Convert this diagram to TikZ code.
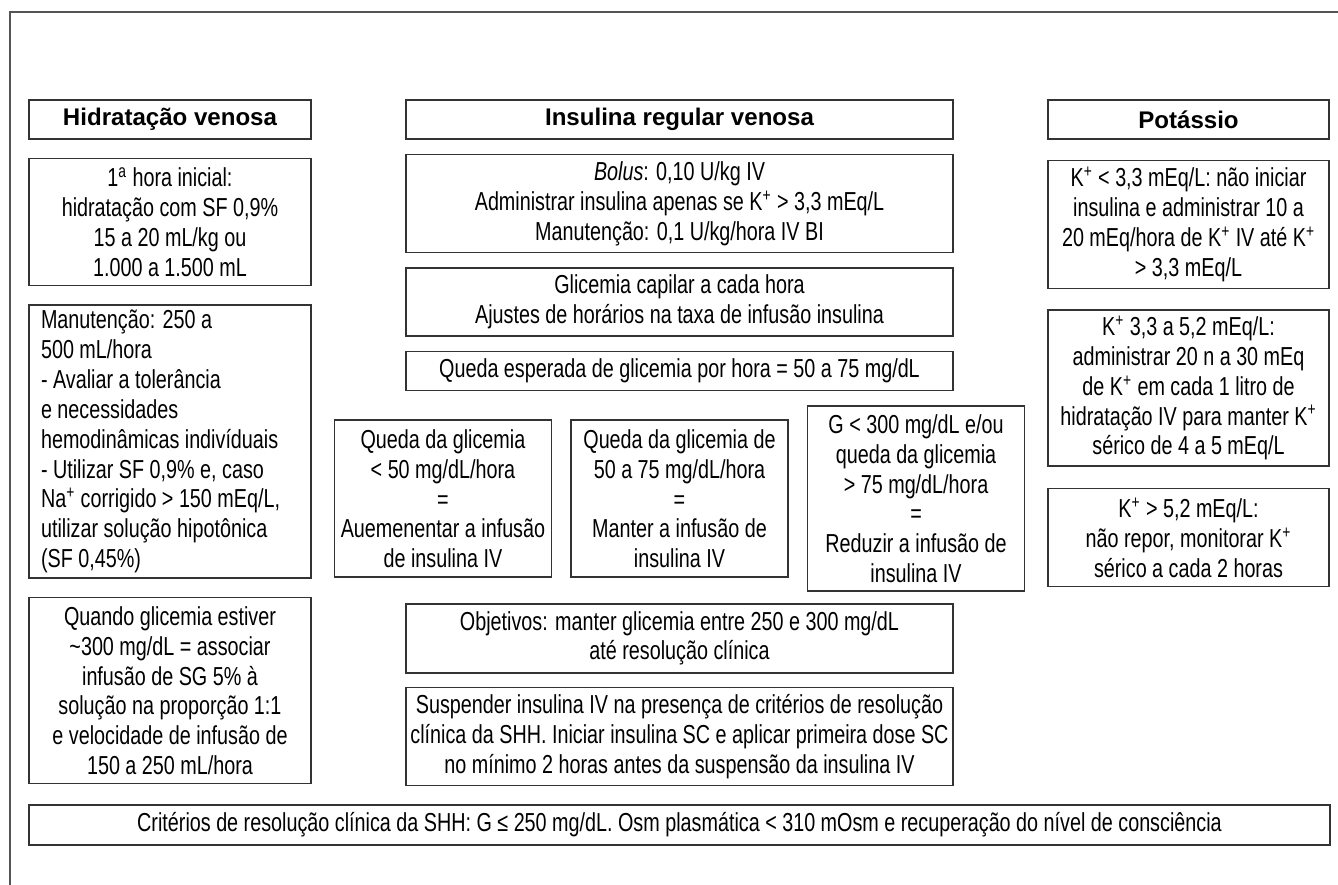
\documentclass[tikz,border=0pt]{standalone}
\usepackage{fontspec}
\setmainfont{Liberation Sans}[FakeStretch=0.76]
\newfontfamily\headfont{Liberation Sans}
\usetikzlibrary{positioning}
\definecolor{boxLine}{HTML}{333333}
\definecolor{frameGrey}{HTML}{555555}
\newcommand{\kplus}{K\textsuperscript{+}}

\begin{document}
\begin{tikzpicture}[x=0.02cm, y=-0.02cm, font=\fontsize{14.8}{17}\selectfont,
  every node/.style={align=center},
  box/.style={draw=boxLine, line width=0.9pt, inner sep=0pt},
  headbox/.style={box, font=\fontsize{13.7}{16.5}\selectfont\headfont\bfseries, minimum height=0.78cm}]
  \useasboundingbox (0,0) rectangle (1338,885);
  % frame
  \draw[frameGrey, line width=1.2pt] (10,885) -- (10,12) -- (1338,12);
  % headers
  \node[headbox, minimum width=5.64cm] (hidHead) at (170,119.5) {Hidratação venosa};
  \node[headbox, minimum width=10.94cm] (insHead) at (679.5,119.5) {Insulina regular venosa};
  \node[headbox, minimum width=5.62cm] (potHead) at (1188.5,119.5) {Potássio};
  % hidratacao
  \node[box, minimum width=5.64cm, minimum height=2.54cm, below=0.36cm of hidHead] (hidInicial) {1\textsuperscript{a} hora inicial:\\hidratação com SF 0,9\%\\15 a 20 mL/kg ou\\1.000 a 1.500 mL};
  \node[box, text width=5.16cm, inner xsep=0.24cm, minimum height=5.46cm, align=flush left, below=0.36cm of hidInicial] (hidManut) {Manutenção: 250 a\\500 mL/hora\\- Avaliar a tolerância\\e necessidades\\hemodinâmicas indivíduais\\- Utilizar SF 0,9\% e, caso\\Na\textsuperscript{+} corrigido > 150 mEq/L,\\utilizar solução hipotônica\\(SF 0,45\%)};
  \node[box, minimum width=5.64cm, minimum height=3.72cm, below=0.36cm of hidManut] (hidGlicose) {Quando glicemia estiver\\\textasciitilde300 mg/dL = associar\\infusão de SG 5\% à\\solução na proporção 1:1\\e velocidade de infusão de\\150 a 250 mL/hora};
  % insulina
  \node[box, minimum width=10.94cm, minimum height=1.96cm, below=0.28cm of insHead] (insBolus) {\textit{Bolus}: 0,10 U/kg IV\\Administrar insulina apenas se \kplus{} > 3,3 mEq/L\\Manutenção: 0,1 U/kg/hora IV BI};
  \node[box, minimum width=10.94cm, minimum height=1.36cm, below=0.28cm of insBolus] (insCapilar) {Glicemia capilar a cada hora\\Ajustes de horários na taxa de infusão insulina};
  \node[box, minimum width=10.94cm, minimum height=0.78cm, below=0.28cm of insCapilar] (insQueda) {Queda esperada de glicemia por hora = 50 a 75 mg/dL};
  \node[box, minimum width=4.34cm, minimum height=3.14cm, below=0.56cm of insQueda] (ajManter) {Queda da glicemia de\\50 a 75 mg/dL/hora\\=\\Manter a infusão de\\insulina IV};
  \node[box, minimum width=4.34cm, minimum height=3.14cm, left=0.36cm of ajManter] (ajAumentar) {Queda da glicemia\\< 50 mg/dL/hora\\=\\Auemenentar a infusão\\de insulina IV};
  \node[box, minimum width=4.34cm, minimum height=3.7cm, right=0.36cm of ajManter] (ajReduzir) {G < 300 mg/dL e/ou\\queda da glicemia\\> 75 mg/dL/hora\\=\\Reduzir a infusão de\\insulina IV};
  \node[box, minimum width=10.94cm, minimum height=1.38cm, below=0.5cm of ajManter] (insObjetivo) {Objetivos: manter glicemia entre 250 e 300 mg/dL\\até resolução clínica};
  \node[box, minimum width=10.94cm, minimum height=1.96cm, below=0.26cm of insObjetivo] (insSuspender) {Suspender insulina IV na presença de critérios de resolução\\clínica da SHH. Iniciar insulina SC e aplicar primeira dose SC\\no mínimo 2 horas antes da suspensão da insulina IV};
  % potassio
  \node[box, minimum width=5.62cm, minimum height=2.56cm, below=0.4cm of potHead] (potBaixo) {\kplus{} < 3,3 mEq/L: não iniciar\\insulina e administrar 10 a\\20 mEq/hora de \kplus{} IV até \kplus\\> 3,3 mEq/L};
  \node[box, minimum width=5.62cm, minimum height=3.12cm, below=0.4cm of potBaixo] (potMedio) {\kplus{} 3,3 a 5,2 mEq/L:\\administrar 20 n a 30 mEq\\de \kplus{} em cada 1 litro de\\hidratação IV para manter \kplus\\sérico de 4 a 5 mEq/L};
  \node[box, minimum width=5.62cm, minimum height=1.96cm, below=0.42cm of potMedio] (potAlto) {\kplus{} > 5,2 mEq/L:\\não repor, monitorar \kplus\\sérico a cada 2 horas};
  % criterios
  \node[box, minimum width=26.02cm, minimum height=0.8cm, below=0.36cm of insSuspender] (criterios) {Critérios de resolução clínica da SHH: G ≤ 250 mg/dL. Osm plasmática < 310 mOsm e recuperação do nível de consciência};
\end{tikzpicture}
\end{document}
